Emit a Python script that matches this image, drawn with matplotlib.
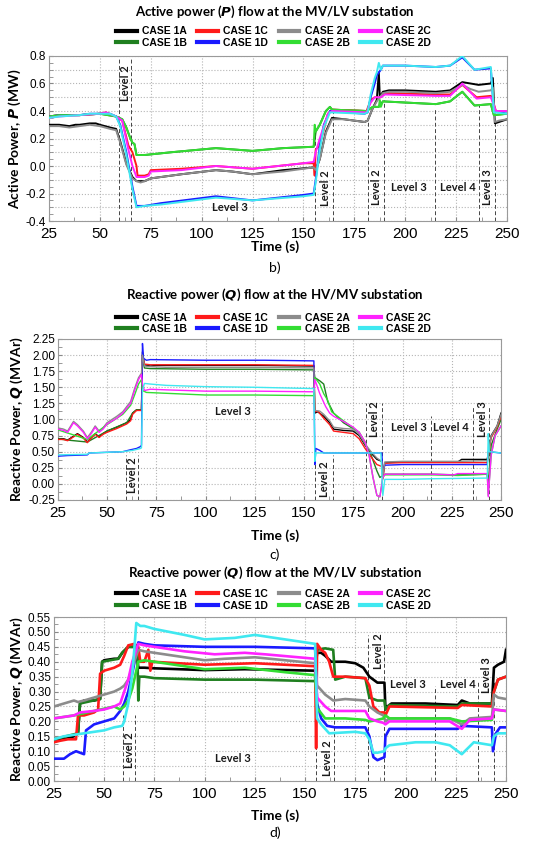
import matplotlib
matplotlib.use('Agg')
import matplotlib.pyplot as plt
from matplotlib.ticker import MultipleLocator, FormatStrFormatter
from matplotlib.lines import Line2D
import numpy as np

# ---------------- data ----------------
cases = ['1A', '1B', '1C', '1D', '2A', '2B', '2C', '2D']
colors = {'1A': '#000000', '1B': '#1f7f1f', '1C': '#ff1a1a', '1D': '#1a1aff',
          '2A': '#8c8c8c', '2B': '#33dd33', '2C': '#ff22ff', '2D': '#3fe8f0'}

# Panel b) Active power P at MV/LV (MW)
P_1A_t = [25, 30, 35, 38, 40, 45, 48, 50, 55, 58, 60, 63, 66, 68, 70, 72, 75, 90, 107, 115, 125, 140, 155, 156, 158, 161, 164, 170, 180, 181.5, 184, 186, 187, 187.5, 189, 192, 200, 215, 222, 228, 232, 236, 242, 243, 244, 246, 250]
P_1A_v = [0.30, 0.30, 0.29, 0.30, 0.30, 0.31, 0.31, 0.30, 0.28, 0.27, 0.18, 0.02, -0.08, -0.11, -0.11, -0.11, -0.09, -0.06, -0.03, -0.04, -0.06, -0.03, -0.01, -0.03, 0.05, 0.25, 0.35, 0.34, 0.32, 0.33, 0.42, 0.48, 0.68, 0.50, 0.54, 0.55, 0.55, 0.54, 0.55, 0.61, 0.60, 0.59, 0.60, 0.64, 0.31, 0.32, 0.34]
P_2A_t = [25, 30, 35, 40, 45, 50, 55, 58, 60, 63, 66, 68, 70, 72, 75, 90, 107, 115, 125, 140, 155, 156, 158, 161, 164, 170, 180, 181.5, 184, 186, 189, 192, 200, 215, 222, 228, 232, 236, 242, 243, 244, 246, 250]
P_2A_v = [0.29, 0.29, 0.28, 0.29, 0.30, 0.29, 0.27, 0.26, 0.17, 0.01, -0.09, -0.11, -0.12, -0.11, -0.09, -0.06, -0.03, -0.04, -0.06, -0.04, -0.01, -0.03, 0.05, 0.24, 0.34, 0.34, 0.32, 0.33, 0.42, 0.47, 0.53, 0.54, 0.54, 0.53, 0.54, 0.59, 0.56, 0.54, 0.55, 0.57, 0.32, 0.33, 0.34]
P_1C_t = [25, 30, 40, 50, 53, 58, 61, 64, 66, 67, 68, 68.5, 72, 74, 75, 90, 107, 125, 150, 155, 155.5, 156, 158, 162, 164, 181, 183, 185, 188, 190, 215, 222, 228, 235, 242, 243.5, 244.5, 250]
P_1C_v = [0.36, 0.37, 0.37, 0.38, 0.39, 0.36, 0.33, 0.15, 0.10, 0.05, 0.00, -0.07, -0.07, -0.06, -0.03, -0.02, 0.00, -0.02, 0.02, 0.02, -0.07, 0.12, 0.15, 0.38, 0.41, 0.40, 0.48, 0.50, 0.50, 0.53, 0.52, 0.52, 0.59, 0.50, 0.51, 0.45, 0.40, 0.40]
P_2C_t = [25, 30, 40, 50, 53, 58, 61, 64, 66, 68, 72, 74, 75, 90, 107, 125, 150, 155, 156, 158, 162, 164, 181, 183, 185, 188, 190, 215, 222, 228, 235, 242, 243.5, 244.5, 250]
P_2C_v = [0.35, 0.36, 0.37, 0.38, 0.39, 0.36, 0.33, 0.12, 0.00, -0.08, -0.08, -0.07, -0.04, -0.03, 0.00, -0.02, 0.02, 0.03, 0.10, 0.20, 0.38, 0.40, 0.39, 0.46, 0.50, 0.50, 0.52, 0.51, 0.51, 0.60, 0.49, 0.50, 0.44, 0.40, 0.40]
P_1D_t = [25, 30, 40, 45, 55, 58, 60, 63, 66, 68, 72, 80, 107, 125, 150, 155, 156, 158, 160, 163, 180, 181.5, 183, 185, 186, 188, 189, 200, 215, 222, 228, 234, 242, 243.5, 250]
P_1D_v = [0.36, 0.37, 0.37, 0.38, 0.38, 0.36, 0.30, 0.10, -0.15, -0.29, -0.29, -0.27, -0.22, -0.25, -0.21, -0.20, -0.10, 0.15, 0.30, 0.40, 0.38, 0.39, 0.50, 0.60, 0.66, 0.70, 0.73, 0.73, 0.72, 0.73, 0.79, 0.70, 0.71, 0.40, 0.38]
P_2D_t = [25, 30, 40, 45, 55, 58, 60, 63, 66, 68, 72, 80, 107, 125, 150, 155, 156, 158, 160, 163, 180, 181.5, 183, 185, 186, 187, 188, 189, 200, 215, 222, 228, 234, 242, 243.5, 250]
P_2D_v = [0.35, 0.36, 0.37, 0.38, 0.38, 0.36, 0.29, 0.08, -0.17, -0.30, -0.29, -0.28, -0.23, -0.25, -0.22, -0.21, -0.12, 0.12, 0.28, 0.39, 0.38, 0.39, 0.52, 0.64, 0.68, 0.75, 0.70, 0.73, 0.73, 0.72, 0.73, 0.80, 0.70, 0.72, 0.39, 0.38]
P_1B_t = [25, 30, 40, 50, 58, 61, 63, 65, 66, 67, 68, 72, 85, 107, 125, 140, 155, 156, 158, 161, 163, 164, 181, 184, 187, 189, 215, 222, 228, 234, 242, 243.5, 250]
P_1B_v = [0.36, 0.37, 0.37, 0.38, 0.36, 0.34, 0.28, 0.20, 0.17, 0.16, 0.08, 0.08, 0.10, 0.13, 0.11, 0.13, 0.14, 0.25, 0.30, 0.40, 0.43, 0.41, 0.40, 0.43, 0.43, 0.47, 0.45, 0.47, 0.54, 0.44, 0.45, 0.37, 0.38]
P_2B_t = [25, 30, 40, 50, 58, 61, 63, 65, 66, 67, 68, 72, 85, 107, 125, 140, 155, 155.5, 156, 158, 161, 163, 164, 181, 184, 187, 187.5, 188, 189, 215, 222, 228, 234, 242, 243.5, 250]
P_2B_v = [0.36, 0.37, 0.37, 0.38, 0.36, 0.34, 0.28, 0.20, 0.17, 0.16, 0.08, 0.08, 0.10, 0.13, 0.11, 0.13, 0.14, 0.30, 0.25, 0.30, 0.40, 0.43, 0.41, 0.40, 0.43, 0.43, 0.48, 0.43, 0.47, 0.45, 0.47, 0.54, 0.44, 0.45, 0.37, 0.38]

# Panel c) Reactive power Q at HV/MV (MVAr)
Q1_1A_t = [25, 28, 30, 32, 35, 38, 40, 42, 44, 46, 48, 50, 55, 60, 62, 63, 65, 67.5, 68, 69, 72, 75, 100, 125, 155, 155.5, 157, 160, 163, 165, 170, 175, 178, 181, 184, 187, 189.5, 190, 191, 200, 215, 228, 230, 243, 243.5, 245, 248, 250]
Q1_1A_v = [0.70, 0.70, 0.68, 0.72, 0.78, 0.72, 0.65, 0.72, 0.78, 0.73, 0.78, 0.82, 0.88, 0.95, 1.00, 1.10, 1.15, 1.15, 2.05, 1.85, 1.83, 1.84, 1.84, 1.84, 1.83, 1.10, 1.12, 1.05, 0.95, 0.85, 0.83, 0.82, 0.75, 0.60, 0.48, 0.38, 0.35, 0.10, 0.33, 0.34, 0.34, 0.34, 0.38, 0.38, 0.48, 0.75, 0.90, 1.10]
Q1_1C_t = [25, 28, 30, 32, 35, 38, 40, 42, 44, 46, 48, 50, 55, 60, 62, 63, 65, 67.5, 68, 69, 72, 75, 100, 125, 155, 155.5, 157, 160, 163, 165, 170, 175, 178, 181, 184, 187, 189.5, 190, 191, 200, 215, 228, 243, 243.5, 245, 248, 250]
Q1_1C_v = [0.69, 0.69, 0.67, 0.71, 0.77, 0.71, 0.64, 0.71, 0.77, 0.72, 0.77, 0.80, 0.86, 0.93, 0.98, 1.08, 1.14, 1.14, 2.00, 1.86, 1.85, 1.85, 1.85, 1.85, 1.84, 1.12, 1.13, 1.02, 0.92, 0.82, 0.80, 0.78, 0.70, 0.55, 0.42, 0.30, 0.27, 0.08, 0.32, 0.33, 0.33, 0.33, 0.33, 0.45, 0.72, 0.88, 1.05]
Q1_2A_t = [25, 28, 30, 33, 35, 38, 40, 42, 44, 46, 48, 50, 55, 58, 62, 64, 66, 67.5, 68, 69, 72, 80, 100, 125, 155, 155.5, 158, 160, 163, 165, 170, 175, 178, 181, 184, 187, 189.5, 190, 191, 200, 215, 228, 243, 243.5, 245, 248, 250]
Q1_2A_v = [0.87, 0.85, 0.82, 0.97, 0.92, 0.82, 0.72, 0.80, 0.90, 0.82, 0.87, 0.95, 1.05, 1.12, 1.28, 1.48, 1.65, 1.72, 2.00, 1.83, 1.82, 1.81, 1.81, 1.81, 1.80, 1.14, 1.13, 1.08, 0.98, 0.88, 0.86, 0.85, 0.77, 0.62, 0.50, 0.40, 0.35, 0.12, 0.34, 0.35, 0.35, 0.35, 0.36, 0.46, 0.74, 0.90, 1.08]
Q1_2C_t = [25, 28, 30, 33, 35, 38, 40, 42, 44, 46, 48, 50, 55, 58, 62, 64, 66, 67.5, 68, 69, 72, 80, 100, 125, 155, 155.5, 158, 161, 163, 165, 170, 175, 178, 181, 183, 185, 187, 188.5, 189.5, 190, 191, 215, 226, 228, 243, 243.5, 245, 247, 250]
Q1_2C_v = [0.85, 0.83, 0.80, 0.95, 0.90, 0.80, 0.70, 0.78, 0.88, 0.80, 0.85, 0.93, 1.02, 1.10, 1.25, 1.45, 1.62, 1.70, 1.55, 1.45, 1.47, 1.46, 1.44, 1.44, 1.43, 1.62, 1.40, 1.20, 1.10, 1.05, 0.97, 0.88, 0.80, 0.65, 0.45, 0.10, -0.18, -0.20, 0.00, 0.10, 0.15, 0.15, 0.14, 0.16, 0.16, -0.20, 0.45, 0.75, 0.90]
Q1_1B_t = [25, 30, 40, 50, 60, 63, 65, 67.5, 68, 69, 72, 100, 125, 155, 155.5, 158, 160, 162, 165, 170, 178, 181, 184, 187, 188.5, 189.5, 190, 191, 215, 228, 243, 243.5, 245, 248, 250]
Q1_1B_v = [0.70, 0.68, 0.65, 0.82, 0.95, 1.10, 1.15, 1.15, 1.95, 1.80, 1.79, 1.78, 1.78, 1.77, 1.65, 1.60, 1.55, 1.28, 1.10, 0.95, 0.80, 0.62, 0.45, 0.20, 0.10, 0.12, 0.12, 0.15, 0.15, 0.14, 0.15, 0.00, 0.60, 0.85, 1.00]
Q1_2B_t = [25, 30, 40, 50, 58, 62, 64, 66, 67.5, 68, 70, 100, 125, 155, 155.5, 158, 160, 162, 164, 170, 178, 181, 183, 185, 187, 188.5, 189.5, 190, 191, 215, 228, 243, 243.5, 245, 247, 250]
Q1_2B_v = [0.84, 0.79, 0.69, 0.92, 1.08, 1.22, 1.38, 1.55, 1.62, 1.45, 1.42, 1.38, 1.38, 1.37, 1.65, 1.55, 1.40, 1.30, 1.12, 0.98, 0.80, 0.65, 0.45, 0.10, -0.18, -0.20, 0.00, 0.10, 0.14, 0.14, 0.13, 0.15, -0.18, 0.45, 0.75, 0.90]
Q1_1D_t = [25, 30, 40, 41, 50, 58, 62, 65, 67, 67.5, 68, 68.5, 70, 72, 100, 130, 155, 155.5, 156, 158, 160, 170, 180, 189.5, 190, 191, 200, 243, 243.5, 250]
Q1_1D_v = [0.43, 0.44, 0.45, 0.48, 0.49, 0.50, 0.53, 0.55, 0.58, 0.60, 2.18, 1.95, 1.92, 1.93, 1.92, 1.92, 1.91, 0.30, 0.55, 0.52, 0.48, 0.48, 0.48, 0.48, 0.20, 0.29, 0.30, 0.30, 0.50, 0.48]
Q1_2D_t = [25, 40, 41, 50, 58, 63, 67, 67.5, 68, 69, 72, 80, 100, 125, 155, 155.5, 156, 160, 189, 190, 191, 200, 215, 243, 243.5, 244, 250]
Q1_2D_v = [0.45, 0.46, 0.48, 0.49, 0.50, 0.52, 0.55, 0.56, 1.45, 1.56, 1.55, 1.53, 1.51, 1.50, 1.48, 0.35, 0.48, 0.48, 0.48, -0.18, 0.07, 0.07, 0.08, 0.09, 0.78, 0.50, 0.48]

# Panel d) Reactive power Q at MV/LV (MVAr)
Q2_1A_t = [25, 30, 35, 37, 38, 40, 45, 48, 49, 50, 55, 57, 59, 62, 66, 67, 70, 75, 100, 120, 155, 156, 158, 160, 163, 170, 175, 179, 182, 186, 189.5, 190, 191, 193, 210, 226, 228, 232, 243, 244, 246, 249, 250]
Q2_1A_v = [0.14, 0.14, 0.15, 0.16, 0.26, 0.27, 0.27, 0.275, 0.40, 0.405, 0.41, 0.41, 0.43, 0.45, 0.45, 0.38, 0.38, 0.378, 0.372, 0.375, 0.37, 0.43, 0.43, 0.42, 0.40, 0.40, 0.395, 0.38, 0.35, 0.33, 0.33, 0.24, 0.25, 0.26, 0.26, 0.255, 0.27, 0.26, 0.26, 0.38, 0.39, 0.40, 0.44]
Q2_1B_t = [25, 37, 38, 48, 49, 57, 59, 62, 66.5, 67, 67.5, 70, 75, 100, 125, 155, 156, 160, 164, 165, 170, 180, 182, 186, 189.5, 190, 192, 226, 228, 243, 244, 246, 250]
Q2_1B_v = [0.14, 0.16, 0.26, 0.275, 0.40, 0.41, 0.43, 0.45, 0.45, 0.27, 0.35, 0.35, 0.345, 0.34, 0.34, 0.335, 0.44, 0.445, 0.44, 0.34, 0.35, 0.345, 0.28, 0.27, 0.27, 0.24, 0.255, 0.25, 0.26, 0.26, 0.30, 0.34, 0.35]
Q2_1C_t = [25, 28, 32, 36, 37, 40, 45, 47, 48, 50, 55, 58, 60, 62, 65, 67, 68, 70, 72, 73, 74, 100, 125, 155, 155.5, 156, 158, 160, 162, 164, 170, 180, 182, 184, 187, 189.5, 190, 192, 226, 228, 243, 244, 246, 250]
Q2_1C_v = [0.13, 0.135, 0.14, 0.14, 0.22, 0.22, 0.23, 0.24, 0.36, 0.37, 0.38, 0.39, 0.42, 0.455, 0.46, 0.45, 0.40, 0.40, 0.44, 0.37, 0.40, 0.39, 0.395, 0.385, 0.11, 0.46, 0.44, 0.43, 0.40, 0.35, 0.35, 0.345, 0.32, 0.25, 0.23, 0.23, 0.22, 0.25, 0.245, 0.255, 0.25, 0.30, 0.34, 0.35]
Q2_1D_t = [25, 30, 33, 36, 40, 41, 43, 45, 50, 55, 58, 60, 62, 64, 66, 67, 70, 75, 100, 125, 155, 156, 158, 161, 165, 180, 182, 184, 186, 189.5, 190, 192, 226, 228, 243, 243.5, 245, 247, 250]
Q2_1D_v = [0.075, 0.075, 0.09, 0.10, 0.09, 0.17, 0.18, 0.19, 0.20, 0.21, 0.235, 0.26, 0.30, 0.36, 0.43, 0.465, 0.46, 0.455, 0.45, 0.45, 0.445, 0.26, 0.21, 0.185, 0.18, 0.18, 0.15, 0.08, 0.07, 0.08, 0.15, 0.175, 0.175, 0.185, 0.18, 0.10, 0.16, 0.18, 0.18]
Q2_2A_t = [25, 30, 35, 37, 40, 45, 50, 55, 58, 60, 62, 64, 66, 67, 70, 75, 90, 100, 110, 125, 140, 155, 156, 160, 164, 170, 180, 182, 186, 189, 190, 192, 222, 228, 232, 243, 244, 246, 250]
Q2_2A_v = [0.25, 0.26, 0.27, 0.265, 0.27, 0.28, 0.29, 0.30, 0.31, 0.32, 0.34, 0.38, 0.42, 0.44, 0.435, 0.43, 0.415, 0.405, 0.41, 0.415, 0.405, 0.395, 0.32, 0.29, 0.27, 0.275, 0.27, 0.25, 0.23, 0.22, 0.20, 0.21, 0.21, 0.19, 0.21, 0.215, 0.29, 0.28, 0.275]
Q2_2B_t = [25, 35, 45, 55, 58, 60, 62, 64, 66, 67, 70, 75, 100, 120, 140, 155, 156, 160, 170, 180, 182, 186, 189, 190, 192, 222, 228, 243, 244, 250]
Q2_2B_v = [0.21, 0.22, 0.235, 0.25, 0.24, 0.25, 0.27, 0.31, 0.37, 0.40, 0.405, 0.40, 0.375, 0.38, 0.365, 0.355, 0.245, 0.21, 0.21, 0.205, 0.20, 0.205, 0.21, 0.22, 0.21, 0.21, 0.20, 0.205, 0.24, 0.235]
Q2_2C_t = [25, 30, 35, 38, 45, 50, 55, 58, 60, 62, 64, 66, 67, 70, 75, 90, 105, 120, 130, 155, 156, 160, 163, 180, 182, 186, 189, 190, 192, 222, 228, 232, 243, 244, 250]
Q2_2C_v = [0.21, 0.215, 0.22, 0.23, 0.235, 0.24, 0.25, 0.26, 0.30, 0.34, 0.40, 0.44, 0.46, 0.455, 0.45, 0.435, 0.425, 0.43, 0.425, 0.41, 0.28, 0.25, 0.235, 0.235, 0.21, 0.20, 0.195, 0.19, 0.20, 0.20, 0.175, 0.205, 0.21, 0.24, 0.235]
Q2_2D_t = [25, 30, 40, 45, 50, 55, 59, 60, 62, 64, 65, 66, 68, 70, 75, 90, 100, 115, 125, 140, 155, 156, 158, 162, 175, 180, 182, 184, 186, 189.5, 190, 192, 205, 215, 222, 228, 234, 243, 244, 246, 250]
Q2_2D_v = [0.14, 0.15, 0.16, 0.165, 0.17, 0.18, 0.185, 0.20, 0.26, 0.36, 0.44, 0.53, 0.52, 0.52, 0.51, 0.49, 0.475, 0.48, 0.49, 0.475, 0.46, 0.21, 0.19, 0.16, 0.165, 0.16, 0.14, 0.095, 0.095, 0.10, 0.11, 0.12, 0.13, 0.13, 0.12, 0.09, 0.13, 0.12, 0.15, 0.16, 0.16]

series_P = {'1A': (P_1A_t, P_1A_v), '1B': (P_1B_t, P_1B_v), '1C': (P_1C_t, P_1C_v), '1D': (P_1D_t, P_1D_v),
            '2A': (P_2A_t, P_2A_v), '2B': (P_2B_t, P_2B_v), '2C': (P_2C_t, P_2C_v), '2D': (P_2D_t, P_2D_v)}
series_Q1 = {'1A': (Q1_1A_t, Q1_1A_v), '1B': (Q1_1B_t, Q1_1B_v), '1C': (Q1_1C_t, Q1_1C_v), '1D': (Q1_1D_t, Q1_1D_v),
             '2A': (Q1_2A_t, Q1_2A_v), '2B': (Q1_2B_t, Q1_2B_v), '2C': (Q1_2C_t, Q1_2C_v), '2D': (Q1_2D_t, Q1_2D_v)}
series_Q2 = {'1A': (Q2_1A_t, Q2_1A_v), '1B': (Q2_1B_t, Q2_1B_v), '1C': (Q2_1C_t, Q2_1C_v), '1D': (Q2_1D_t, Q2_1D_v),
             '2A': (Q2_2A_t, Q2_2A_v), '2B': (Q2_2B_t, Q2_2B_v), '2C': (Q2_2C_t, Q2_2C_v), '2D': (Q2_2D_t, Q2_2D_v)}

# dashed level boundaries: (time, top value)
dash_t = [59.5, 65.5, 155.5, 164.5, 181.5, 189.5, 214.5, 236, 244]
dash_top_P = [0.78, 0.78, 0.3, 0.42, 0.32, 0.48, 0.42, 0.45, 0.35]
dash_top_Q1 = [0.45, 0.45, 0.45, 0.45, 1.25, 1.25, 1.05, 1.2, 1.2]
dash_top_Q2 = [0.22, 0.22, 0.28, 0.30, 0.49, 0.46, 0.32, 0.34, 0.34]

# level labels: (text, time, value, rotation)
levels_P = [('Level 2', 62.5, 0.60, 90), ('Level 3', 114, -0.30, 0), ('Level 2', 161, -0.16, 90),
            ('Level 2', 186, -0.15, 90), ('Level 3', 202, -0.155, 0), ('Level 4', 226, -0.155, 0), ('Level 3', 240.5, -0.15, 90)]
levels_Q1 = [('Level 2', 63, 0.14, 90), ('Level 3', 114, 1.12, 0), ('Level 2', 160.5, 0.07, 90),
             ('Level 2', 186, 1.0, 90), ('Level 3', 203, 0.87, 0), ('Level 4', 224.5, 0.87, 0), ('Level 3', 240.5, 1.0, 90)]
levels_Q2 = [('Level 2', 62.8, 0.105, 90), ('Level 3', 114, 0.074, 0), ('Level 2', 161.4, 0.077, 90),
             ('Level 2', 186.3, 0.434, 90), ('Level 3', 201, 0.325, 0), ('Level 4', 226, 0.325, 0), ('Level 3', 240.4, 0.355, 90)]

# ---------------- drawing ----------------
fig = plt.figure(figsize=(5.5, 8.42), dpi=100)
TF = 'Lato'
NF = 'Liberation Sans'


def make_panel(rect, series, lw, ylim, ymaj, ygrid, ytick_minor, yfmt, title, ylabel,
               dash_top, levels, leg_y, tag, tag_y, xl_y):
    ax = fig.add_axes(rect)
    for c in cases:
        t, v = series[c]
        ax.plot(t, v, color=colors[c], lw=lw, zorder=3)
    for xt, top in zip(dash_t, dash_top):
        ax.plot([xt, xt], [ylim[0], top], ls=(0, (4, 2.5)), color='#444444', lw=0.7, zorder=2)
    for txt, xt, yv, rot in levels:
        ax.text(xt, yv, txt, rotation=rot, ha='center', va='center', fontsize=8,
                fontweight='bold', family=TF, color='#1a1a1a', zorder=4)
    ax.set_xlim(25, 250)
    ax.set_ylim(*ylim)
    ax.xaxis.set_major_locator(MultipleLocator(25))
    ax.xaxis.set_minor_locator(MultipleLocator(12.5))
    ax.yaxis.set_major_locator(MultipleLocator(ymaj))
    ax.yaxis.set_minor_locator(MultipleLocator(ytick_minor))
    ax.yaxis.set_major_formatter(FormatStrFormatter(yfmt))
    ax.grid(True, which='major', axis='x', ls=':', color='#b5b5b5', lw=0.8)
    gy = np.arange(ylim[0], ylim[1] + 1e-9, ygrid)
    for g in gy:
        ax.axhline(g, ls=':', color='#b5b5b5', lw=0.8, zorder=1)
    ax.tick_params(axis='x', which='both', direction='in', length=3, color='#888888', labelsize=11, pad=4)
    ax.tick_params(axis='y', which='both', direction='in', length=3, color='#888888', labelsize=8.5, pad=2)
    for lab in ax.get_xticklabels() + ax.get_yticklabels():
        lab.set_family(NF)
    for s in ax.spines.values():
        s.set_color('#9a9a9a')
        s.set_linewidth(0.8)
    ax.set_ylabel(ylabel, fontsize=10, fontweight='bold', family=TF, labelpad=2)
    fig.text(0.5, xl_y, 'Time (s)', ha='center', va='center', fontsize=10, fontweight='bold', family=TF)
    fig.text(0.5, rect[1] + rect[3] + 0.052, title, ha='center', va='center', fontsize=9.5,
             fontweight='bold', family=TF)
    handles = [Line2D([], [], color=colors[c], lw=3) for c in cases]
    fig.legend(handles, ['CASE ' + c for c in cases], ncol=4, loc='center', bbox_to_anchor=(0.497, leg_y),
               frameon=False, prop={'family': NF, 'weight': 'bold', 'size': 7.5},
               handlelength=2.0, handletextpad=0.5, columnspacing=1.0, labelspacing=0.15, borderpad=0.1)
    fig.text(0.5, tag_y, tag, ha='center', va='center', fontsize=10, family=TF)
    return ax


make_panel([0.089, 0.7375, 0.833, 0.196], series_P, 1.4, (-0.4, 0.8), 0.2, 0.1, 0.05, '%.1f',
           'Active power ($\\mathbfit{P}$) flow at the MV/LV substation', 'Active Power, $\\mathbfit{P}$ (MW)',
           dash_top_P, levels_P, 0.956, 'b)', 0.682, 0.707)
make_panel([0.105, 0.4062, 0.806, 0.1912], series_Q1, 1.0, (-0.25, 2.25), 0.25, 0.25, 0.125, '%.2f',
           'Reactive power ($\\mathbfit{Q}$) flow at the HV/MV substation', 'Reactive Power, $\\mathbfit{Q}$ (MVAr)',
           dash_top_Q1, levels_Q1, 0.616, 'c)', 0.341, 0.364)
make_panel([0.098, 0.0724, 0.822, 0.1948], series_Q2, 1.9, (0.0, 0.55), 0.05, 0.05, 0.025, '%.2f',
           'Reactive power ($\\mathbfit{Q}$) flow at the MV/LV substation', 'Reactive Power, $\\mathbfit{Q}$ (MVAr)',
           dash_top_Q2, levels_Q2, 0.2875, 'd)', 0.0107, 0.031)

fig.savefig('out.png', dpi=100)
